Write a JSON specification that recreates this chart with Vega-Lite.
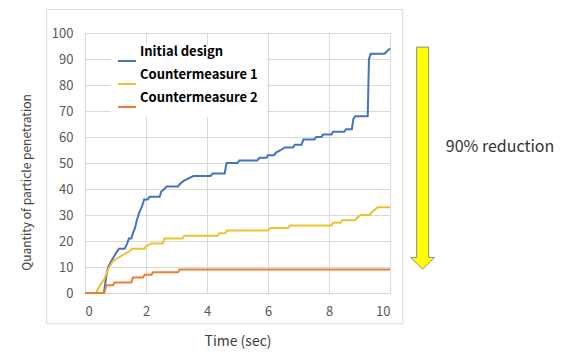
{
  "$schema": "https://vega.github.io/schema/vega-lite/v6.json",
  "width": 305,
  "height": 260,
  "autosize": {"type": "none"},
  "padding": {"left": 85, "top": 33, "right": 177, "bottom": 65},
  "background": "white",
  "config": {
    "font": "Noto Sans CJK JP",
    "view": {"stroke": null},
    "style": {"guide-label": {"lineHeight": 18}},
    "axisY": {"tickCount": 11}
  },
  "datasets": {
    "curves": [
      {"series": "Initial design", "t": 0, "v": 0},
      {"series": "Initial design", "t": 0.62, "v": 0},
      {"series": "Initial design", "t": 0.68, "v": 5},
      {"series": "Initial design", "t": 0.72, "v": 8},
      {"series": "Initial design", "t": 0.76, "v": 10},
      {"series": "Initial design", "t": 0.85, "v": 12},
      {"series": "Initial design", "t": 0.95, "v": 14},
      {"series": "Initial design", "t": 1.05, "v": 16},
      {"series": "Initial design", "t": 1.12, "v": 17},
      {"series": "Initial design", "t": 1.3, "v": 17},
      {"series": "Initial design", "t": 1.38, "v": 19},
      {"series": "Initial design", "t": 1.44, "v": 21},
      {"series": "Initial design", "t": 1.52, "v": 21},
      {"series": "Initial design", "t": 1.57, "v": 23},
      {"series": "Initial design", "t": 1.64, "v": 25},
      {"series": "Initial design", "t": 1.7, "v": 28},
      {"series": "Initial design", "t": 1.78, "v": 31},
      {"series": "Initial design", "t": 1.86, "v": 33},
      {"series": "Initial design", "t": 1.94, "v": 36},
      {"series": "Initial design", "t": 2.05, "v": 36},
      {"series": "Initial design", "t": 2.12, "v": 37},
      {"series": "Initial design", "t": 2.45, "v": 37},
      {"series": "Initial design", "t": 2.5, "v": 39},
      {"series": "Initial design", "t": 2.6, "v": 40},
      {"series": "Initial design", "t": 2.68, "v": 41},
      {"series": "Initial design", "t": 3.05, "v": 41},
      {"series": "Initial design", "t": 3.12, "v": 42},
      {"series": "Initial design", "t": 3.22, "v": 43},
      {"series": "Initial design", "t": 3.38, "v": 44},
      {"series": "Initial design", "t": 3.55, "v": 45},
      {"series": "Initial design", "t": 4.12, "v": 45},
      {"series": "Initial design", "t": 4.18, "v": 46},
      {"series": "Initial design", "t": 4.58, "v": 46},
      {"series": "Initial design", "t": 4.64, "v": 50},
      {"series": "Initial design", "t": 5.0, "v": 50},
      {"series": "Initial design", "t": 5.06, "v": 51},
      {"series": "Initial design", "t": 5.65, "v": 51},
      {"series": "Initial design", "t": 5.72, "v": 52},
      {"series": "Initial design", "t": 5.95, "v": 52},
      {"series": "Initial design", "t": 6.0, "v": 53},
      {"series": "Initial design", "t": 6.2, "v": 53},
      {"series": "Initial design", "t": 6.26, "v": 54},
      {"series": "Initial design", "t": 6.42, "v": 55},
      {"series": "Initial design", "t": 6.55, "v": 56},
      {"series": "Initial design", "t": 6.82, "v": 56},
      {"series": "Initial design", "t": 6.88, "v": 57},
      {"series": "Initial design", "t": 7.1, "v": 57},
      {"series": "Initial design", "t": 7.16, "v": 59},
      {"series": "Initial design", "t": 7.52, "v": 59},
      {"series": "Initial design", "t": 7.58, "v": 60},
      {"series": "Initial design", "t": 7.75, "v": 60},
      {"series": "Initial design", "t": 7.8, "v": 61},
      {"series": "Initial design", "t": 8.08, "v": 61},
      {"series": "Initial design", "t": 8.13, "v": 62},
      {"series": "Initial design", "t": 8.5, "v": 62},
      {"series": "Initial design", "t": 8.56, "v": 63},
      {"series": "Initial design", "t": 8.75, "v": 63},
      {"series": "Initial design", "t": 8.8, "v": 67},
      {"series": "Initial design", "t": 8.86, "v": 68},
      {"series": "Initial design", "t": 9.27, "v": 68},
      {"series": "Initial design", "t": 9.31, "v": 90},
      {"series": "Initial design", "t": 9.37, "v": 92},
      {"series": "Initial design", "t": 9.82, "v": 92},
      {"series": "Initial design", "t": 9.9, "v": 93},
      {"series": "Initial design", "t": 10, "v": 94},
      {"series": "Countermeasure  1", "t": 0, "v": 0},
      {"series": "Countermeasure  1", "t": 0.36, "v": 0},
      {"series": "Countermeasure  1", "t": 0.45, "v": 2},
      {"series": "Countermeasure  1", "t": 0.55, "v": 4},
      {"series": "Countermeasure  1", "t": 0.62, "v": 5},
      {"series": "Countermeasure  1", "t": 0.66, "v": 6},
      {"series": "Countermeasure  1", "t": 0.72, "v": 8},
      {"series": "Countermeasure  1", "t": 0.8, "v": 10},
      {"series": "Countermeasure  1", "t": 0.9, "v": 12},
      {"series": "Countermeasure  1", "t": 1.0, "v": 13},
      {"series": "Countermeasure  1", "t": 1.15, "v": 14},
      {"series": "Countermeasure  1", "t": 1.3, "v": 15},
      {"series": "Countermeasure  1", "t": 1.45, "v": 16},
      {"series": "Countermeasure  1", "t": 1.53, "v": 17},
      {"series": "Countermeasure  1", "t": 1.95, "v": 17},
      {"series": "Countermeasure  1", "t": 2.0, "v": 18},
      {"series": "Countermeasure  1", "t": 2.18, "v": 19},
      {"series": "Countermeasure  1", "t": 2.55, "v": 19},
      {"series": "Countermeasure  1", "t": 2.6, "v": 21},
      {"series": "Countermeasure  1", "t": 3.2, "v": 21},
      {"series": "Countermeasure  1", "t": 3.25, "v": 22},
      {"series": "Countermeasure  1", "t": 4.35, "v": 22},
      {"series": "Countermeasure  1", "t": 4.4, "v": 23},
      {"series": "Countermeasure  1", "t": 4.6, "v": 23},
      {"series": "Countermeasure  1", "t": 4.65, "v": 24},
      {"series": "Countermeasure  1", "t": 6.0, "v": 24},
      {"series": "Countermeasure  1", "t": 6.08, "v": 25},
      {"series": "Countermeasure  1", "t": 6.66, "v": 25},
      {"series": "Countermeasure  1", "t": 6.72, "v": 26},
      {"series": "Countermeasure  1", "t": 8.08, "v": 26},
      {"series": "Countermeasure  1", "t": 8.13, "v": 27},
      {"series": "Countermeasure  1", "t": 8.38, "v": 27},
      {"series": "Countermeasure  1", "t": 8.43, "v": 28},
      {"series": "Countermeasure  1", "t": 8.86, "v": 28},
      {"series": "Countermeasure  1", "t": 8.92, "v": 29},
      {"series": "Countermeasure  1", "t": 9.05, "v": 30},
      {"series": "Countermeasure  1", "t": 9.33, "v": 30},
      {"series": "Countermeasure  1", "t": 9.4, "v": 31},
      {"series": "Countermeasure  1", "t": 9.5, "v": 32},
      {"series": "Countermeasure  1", "t": 9.6, "v": 33},
      {"series": "Countermeasure  1", "t": 10, "v": 33},
      {"series": "Countermeasure  2", "t": 0, "v": 0},
      {"series": "Countermeasure  2", "t": 0.63, "v": 0},
      {"series": "Countermeasure  2", "t": 0.7, "v": 3},
      {"series": "Countermeasure  2", "t": 0.92, "v": 3},
      {"series": "Countermeasure  2", "t": 0.97, "v": 4},
      {"series": "Countermeasure  2", "t": 1.52, "v": 4},
      {"series": "Countermeasure  2", "t": 1.57, "v": 6},
      {"series": "Countermeasure  2", "t": 1.9, "v": 6},
      {"series": "Countermeasure  2", "t": 1.96, "v": 7},
      {"series": "Countermeasure  2", "t": 2.18, "v": 7},
      {"series": "Countermeasure  2", "t": 2.23, "v": 8},
      {"series": "Countermeasure  2", "t": 3.05, "v": 8},
      {"series": "Countermeasure  2", "t": 3.1, "v": 9},
      {"series": "Countermeasure  2", "t": 10, "v": 9}
    ]
  },
  "layer": [
    {
      "data": {"name": "curves"},
      "mark": {"type": "line", "strokeWidth": 2, "interpolate": "linear"},
      "encoding": {
        "x": {
          "field": "t", "type": "quantitative",
          "scale": {"domain": [0, 10], "nice": false},
          "axis": {
            "values": [0, 2, 4, 6, 8, 10], "title": "Time (sec)",
            "grid": true, "gridColor": "#D9D9D9", "domain": false, "ticks": false, "tickSize": 0,
            "labelPadding": 12, "labelFontSize": 13, "labelColor": "#595959",
            "titleFontSize": 14, "titleFontWeight": "normal", "titleColor": "#404040", "titlePadding": 16
          }
        },
        "y": {
          "field": "v", "type": "quantitative",
          "scale": {"domain": [0, 100], "nice": false},
          "axis": {
            "values": [0, 10, 20, 30, 40, 50, 60, 70, 80, 90, 100], "title": "Quantity of particle penetration",
            "grid": true, "gridColor": "#D9D9D9", "domain": false, "ticks": false, "tickSize": 0,
            "labelPadding": 12, "labelFontSize": 13, "labelColor": "#595959", "labelOverlap": false,
            "titleFontSize": 12, "titleFontWeight": "normal", "titleColor": "#404040", "titlePadding": 18,
            "titleY": 149
          }
        },
        "color": {
          "field": "series", "type": "nominal",
          "scale": {
            "domain": ["Initial design", "Countermeasure  1", "Countermeasure  2"],
            "range": ["#4472C4", "#EEC12E", "#ED7D31"]
          },
          "legend": {
            "title": null, "orient": "none", "legendX": 26, "legendY": 12,
            "fillColor": "white", "padding": 6,
            "symbolType": "stroke", "symbolStrokeWidth": 2, "symbolSize": 324,
            "labelFontSize": 13, "labelFontWeight": "bold", "labelColor": "#000000",
            "labelOffset": 3, "rowPadding": 4, "labelBaseline": "line-bottom"
          }
        }
      }
    },
    {
      "data": {"values": [{}]},
      "mark": {"type": "rect", "fillOpacity": 0, "stroke": "#D9D9D9", "strokeWidth": 1},
      "encoding": {
        "x": {"datum": -1.26, "type": "quantitative"},
        "x2": {"datum": 10.42},
        "y": {"datum": 109, "type": "quantitative", "axis": {"values": [0, 10, 20, 30, 40, 50, 60, 70, 80, 90, 100]}},
        "y2": {"datum": -11.8}
      }
    },
    {
      "data": {"values": [{}]},
      "mark": {
        "type": "point", "filled": true, "opacity": 1,
        "shape": "M-0.054,-1 L0.054,-1 L0.054,0.895 L0.108,0.895 L0,1 L-0.108,0.895 L-0.054,0.895 Z",
        "size": 49284, "fill": "#FFFF00", "stroke": "#8C8C8C", "strokeWidth": 1
      },
      "encoding": {
        "x": {"datum": 11.07, "type": "quantitative"},
        "y": {"datum": 51.9, "type": "quantitative", "axis": {"values": [0, 10, 20, 30, 40, 50, 60, 70, 80, 90, 100]}}
      }
    },
    {
      "data": {"values": [{"label": "90% reduction"}]},
      "mark": {"type": "text", "align": "left", "baseline": "middle", "fontSize": 16, "color": "#333333"},
      "encoding": {
        "x": {"datum": 11.83, "type": "quantitative"},
        "y": {"datum": 56.3, "type": "quantitative", "axis": {"values": [0, 10, 20, 30, 40, 50, 60, 70, 80, 90, 100]}},
        "text": {"field": "label"}
      }
    }
  ]
}
